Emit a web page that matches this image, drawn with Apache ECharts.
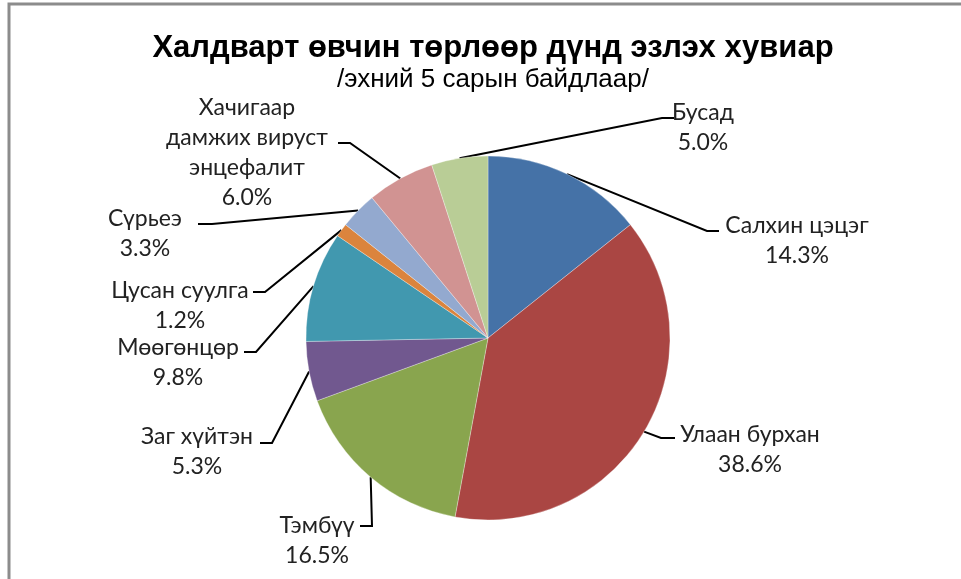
<!DOCTYPE html>
<html>
<head>
<meta charset="utf-8">
<script src="https://cdn.jsdelivr.net/npm/echarts@6/dist/echarts.min.js"></script>
<style>
html, body { margin: 0; padding: 0; background: #fff; }
#chart { width: 961px; height: 579px; }
</style>
</head>
<body>
<div id="chart"></div>
<script>
// өвчний төрөл, хувь
const names = [
    'Салхин цэцэг',
    'Улаан бурхан',
    'Тэмбүү',
    'Заг хүйтэн',
    'Мөөгөнцөр',
    'Цусан суулга',
    'Сүрьеэ',
    'Хачигаар\nдамжих вируст\nэнцефалит',
    'Бусад'
];
const values = [14.3, 38.6, 16.5, 5.3, 9.8, 1.2, 3.3, 6.0, 5.0];
const colors = ['#4572A7', '#AA4643', '#89A54E', '#71588F', '#4198AF', '#DB843D', '#93A9CF', '#D19392', '#B9CD96'];

// шошгоны байрлал: [текстийн төв x, төв y, нугалаа x, нугалаа y, төгсгөл x]
const labelPos = [
    [797, 241, 707, 231, 719],
    [750, 450, 661, 438, 675],
    [317, 541, 372, 526, 360],
    [197, 452, 272, 443, 260],
    [178, 363, 256, 352, 244],
    [180, 306, 265, 292, 253],
    [145, 234, 212, 224, 198],
    [247, 153, 350, 143, 338],
    [703, 128, 662, 118, 674]
];

const chart = echarts.init(document.getElementById('chart'));

const option = {
    animation: false,
    title: [
        {
            text: 'Халдварт өвчин төрлөөр дүнд эзлэх хувиар',
            left: 488,
            top: 28,
            textAlign: 'center',
            textStyle: {
                fontFamily: 'Liberation Sans',
                fontSize: 31,
                fontWeight: 'bold',
                color: '#000'
            }
        },
        {
            text: '/эхний 5 сарын байдлаар/',
            left: 488,
            top: 62,
            textAlign: 'center',
            textStyle: {
                fontFamily: 'Liberation Sans',
                fontSize: 26,
                fontWeight: 'normal',
                color: '#000'
            }
        }
    ],
    graphic: [
        {
            type: 'polyline',
            shape: { points: [[9, 579], [9, 4], [961, 4]] },
            style: { stroke: '#8c8c8c', lineWidth: 3, fill: null }
        }
    ],
    series: [
        {
            type: 'pie',
            center: [488, 338],
            radius: 182,
            startAngle: 90,
            clockwise: true,
            avoidLabelOverlap: false,
            itemStyle: {
                borderColor: 'rgba(255,255,255,0.6)',
                borderWidth: 0.5
            },
            label: {
                show: true,
                position: 'outside',
                fontFamily: 'Lato',
                fontSize: 23,
                lineHeight: 30,
                color: '#222',
                formatter: (p) => p.name + '\n' + p.value.toFixed(1) + '%'
            },
            labelLine: {
                show: true,
                length: 20,
                length2: 10,
                lineStyle: { color: '#000', width: 2 }
            },
            labelLayout: (params) => {
                const pos = labelPos[params.dataIndex];
                const start = params.labelLinePoints[0];
                return {
                    x: pos[0],
                    y: pos[1],
                    align: 'center',
                    verticalAlign: 'middle',
                    labelLinePoints: [start, [pos[2], pos[3]], [pos[4], pos[3]]]
                };
            },
            data: names.map((n, i) => ({
                name: n,
                value: values[i],
                itemStyle: { color: colors[i] }
            }))
        }
    ]
};

chart.setOption(option);
</script>
</body>
</html>
